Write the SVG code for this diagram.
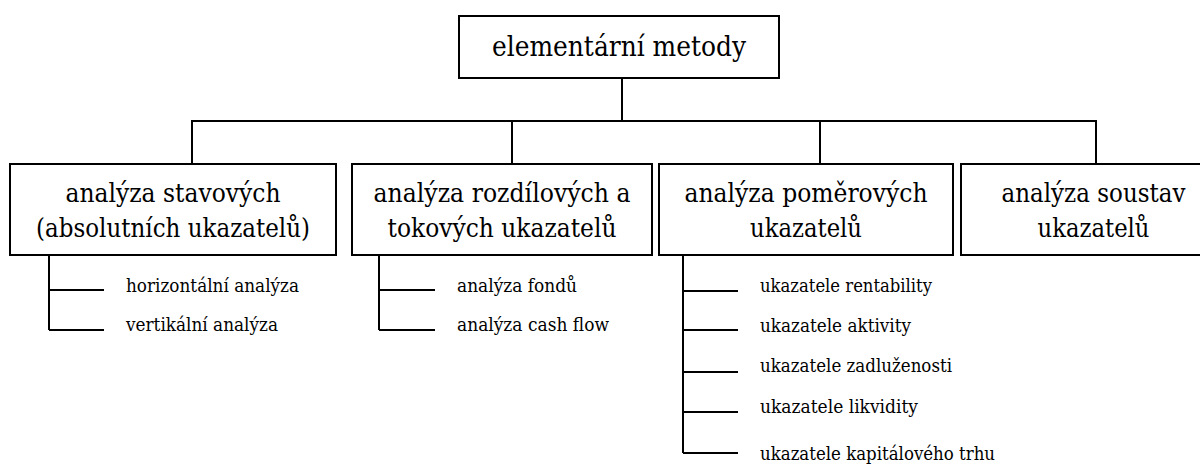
<svg xmlns="http://www.w3.org/2000/svg" width="1200" height="465" viewBox="0 0 1200 465">
<style>
.box{fill:#fff;stroke:#000;stroke-width:2}
.ln{stroke:#000;stroke-width:2;fill:none}
text{font-family:'DejaVu Serif',serif;fill:#000}
.t0{font-size:27.5px;text-anchor:middle}
.t1{font-size:25.2px;text-anchor:middle}
.t2{font-size:18.2px}
</style>
<rect width="1200" height="465" fill="#fff"/>
<g id="connectors">
<path class="ln" d="M622 78V121M191 121H1097M192 121V164M512 121V164M820 121V164M1096 121V164"/>
<path class="ln" d="M49 255V330M49 290H104M49 330H104"/>
<path class="ln" d="M379 255V330M379 290H435M379 330H435"/>
<path class="ln" d="M683 255V453M683 291H738M683 330H738M683 372H738M683 412H738M683 453H738"/>
</g>
<g id="root">
<rect class="box" x="459" y="16" width="320" height="62"/>
<text class="t0" x="619" y="56" textLength="254" lengthAdjust="spacingAndGlyphs">elementární metody</text>
</g>
<g id="n1">
<rect class="box" x="10" y="164" width="326" height="91"/>
<text class="t1" x="173" y="202" textLength="215" lengthAdjust="spacingAndGlyphs">analýza stavových</text>
<text class="t1" x="173" y="237" textLength="274" lengthAdjust="spacingAndGlyphs">(absolutních ukazatelů)</text>
</g>
<g id="n2">
<rect class="box" x="352" y="164" width="300" height="91"/>
<text class="t1" x="502" y="202" textLength="257" lengthAdjust="spacingAndGlyphs">analýza rozdílových a</text>
<text class="t1" x="502" y="237" textLength="229" lengthAdjust="spacingAndGlyphs">tokových ukazatelů</text>
</g>
<g id="n3">
<rect class="box" x="659" y="164" width="294" height="91"/>
<text class="t1" x="806" y="202" textLength="243" lengthAdjust="spacingAndGlyphs">analýza poměrových</text>
<text class="t1" x="806" y="237" textLength="112" lengthAdjust="spacingAndGlyphs">ukazatelů</text>
</g>
<g id="n4">
<rect class="box" x="961" y="164" width="265" height="91"/>
<text class="t1" x="1093.5" y="202" textLength="184" lengthAdjust="spacingAndGlyphs">analýza soustav</text>
<text class="t1" x="1093.5" y="237" textLength="112" lengthAdjust="spacingAndGlyphs">ukazatelů</text>
</g>
<g id="n1a"><text class="t2" x="126" y="292" textLength="173" lengthAdjust="spacingAndGlyphs">horizontální analýza</text></g>
<g id="n1b"><text class="t2" x="126" y="331" textLength="152" lengthAdjust="spacingAndGlyphs">vertikální analýza</text></g>
<g id="n2a"><text class="t2" x="457" y="292" textLength="120" lengthAdjust="spacingAndGlyphs">analýza fondů</text></g>
<g id="n2b"><text class="t2" x="457" y="331" textLength="152" lengthAdjust="spacingAndGlyphs">analýza cash flow</text></g>
<g id="n3a"><text class="t2" x="760" y="292" textLength="172" lengthAdjust="spacingAndGlyphs">ukazatele rentability</text></g>
<g id="n3b"><text class="t2" x="760" y="332" textLength="151" lengthAdjust="spacingAndGlyphs">ukazatele aktivity</text></g>
<g id="n3c"><text class="t2" x="760" y="372" textLength="192" lengthAdjust="spacingAndGlyphs">ukazatele zadluženosti</text></g>
<g id="n3d"><text class="t2" x="760" y="413" textLength="158" lengthAdjust="spacingAndGlyphs">ukazatele likvidity</text></g>
<g id="n3e"><text class="t2" x="760" y="460" textLength="235" lengthAdjust="spacingAndGlyphs">ukazatele kapitálového trhu</text></g>
</svg>
